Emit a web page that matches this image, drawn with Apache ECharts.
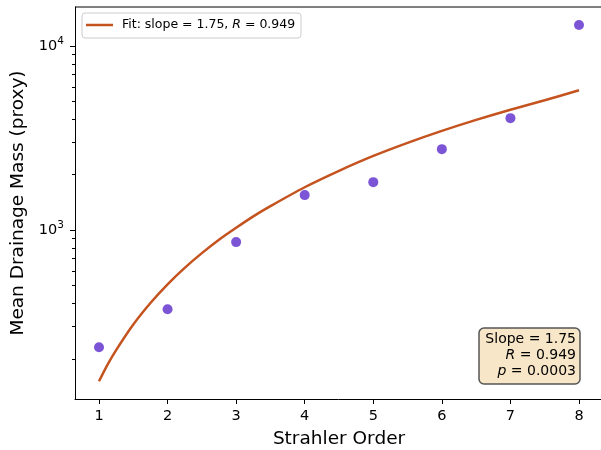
<!DOCTYPE html>
<html>
<head>
<meta charset="utf-8">
<script src="https://cdn.jsdelivr.net/npm/echarts@6/dist/echarts.min.js"></script>
<style>
  html, body { margin: 0; padding: 0; background: #fff; }
  #chart { width: 601px; height: 450px; }
</style>
</head>
<body>
<div id="chart"></div>
<script>
// Strahler order and mean drainage mass
const orders = [1, 2, 3, 4, 5, 6, 7, 8];
const meanMass = [231, 372, 861, 1550, 1823, 2755, 4060, 13000];

// fitted power-law curve, sampled along x (denser where it bends most)
const fitX = [1, 1.125, 1.25, 1.5, 1.75, 2, 2.25, 2.5, 2.75, 3, 3.25, 3.5, 4, 4.5, 5, 5.5, 6, 6.5, 7, 7.5, 8];
const fitY = [151, 186, 223, 307, 402, 508, 624, 750, 887, 1030, 1188, 1350, 1710, 2100, 2530, 2980, 3460, 3970, 4510, 5080, 5750];

const majorTicks = [1000, 10000];
const minorTicks = [200, 300, 400, 500, 600, 700, 800, 900, 2000, 3000, 4000, 5000, 6000, 7000, 8000, 9000];

const FONT = "DejaVu Sans";
const lineColor = "#c4531f";
const dotColor = "#7b55d6";

const chart = echarts.init(document.getElementById("chart"));

const yBase = {
  type: "log",
  logBase: 10,
  min: 121,
  max: 16300,
  position: "left",
  splitLine: { show: false },
};

const italic = {
  n: { fontFamily: FONT, fontSize: 14, fill: "#000" },
  i: { fontFamily: FONT, fontSize: 14, fontStyle: "italic", fill: "#000" },
};

const option = {
  animation: false,
  grid: { left: 75, top: 7, right: -2, bottom: 51, outerBoundsMode: "none" },
  xAxis: {
    type: "value",
    min: 0.65,
    max: 8.35,
    name: "Strahler Order",
    nameLocation: "middle",
    nameGap: 31,
    nameTextStyle: { fontFamily: FONT, fontSize: 18.5, color: "#000" },
    axisLine: { onZero: false, lineStyle: { color: "#000", width: 1 } },
    axisTick: { customValues: orders, length: 5, lineStyle: { color: "#000" } },
    axisLabel: { customValues: orders, fontFamily: FONT, fontSize: 14.5, color: "#000", margin: 10 },
    splitLine: { show: false },
  },
  yAxis: [
    Object.assign({}, yBase, {
      name: "Mean Drainage Mass (proxy)",
      nameLocation: "middle",
      nameGap: 45,
      nameTextStyle: { fontFamily: FONT, fontSize: 18.5, color: "#000" },
      axisLine: { show: true, lineStyle: { color: "#000", width: 1 } },
      axisTick: { customValues: majorTicks, length: 5, lineStyle: { color: "#000" } },
      axisLabel: {
        customValues: majorTicks,
        margin: 11,
        formatter: (v) => "{b|10}{s|" + Math.round(Math.log10(v)) + "}",
        rich: {
          b: { fontFamily: FONT, fontSize: 14.5, color: "#000" },
          s: { fontFamily: FONT, fontSize: 10.5, color: "#000", padding: [0, 0, 9, 0] },
        },
      },
    }),
    Object.assign({}, yBase, {
      axisLine: { show: false },
      axisTick: { customValues: minorTicks, length: 3, lineStyle: { color: "#000" } },
      axisLabel: { show: false },
    }),
  ],
  series: [
    {
      name: "Fit",
      type: "line",
      data: fitX.map((x, i) => [x, fitY[i]]),
      smooth: 0.3,
      showSymbol: false,
      lineStyle: { color: lineColor, width: 2.5 },
      z: 2,
    },
    {
      name: "Data",
      type: "scatter",
      data: orders.map((x, i) => [x, meanMass[i]]),
      symbolSize: 10,
      itemStyle: { color: dotColor, opacity: 1 },
      z: 3,
    },
  ],
  graphic: [
    // top spine
    { type: "line", shape: { x1: 75, y1: 7, x2: 601, y2: 7 }, style: { stroke: "#000", lineWidth: 1 }, z: 10 },
    // legend box
    {
      type: "rect",
      shape: { x: 82, y: 13, width: 219, height: 25, r: 3 },
      style: { fill: "rgba(255,255,255,0.85)", stroke: "#ccc", lineWidth: 1 },
      z: 10,
    },
    { type: "line", shape: { x1: 86, y1: 25, x2: 113, y2: 25 }, style: { stroke: lineColor, lineWidth: 2.5 }, z: 11 },
    {
      type: "text",
      x: 122,
      y: 25,
      style: {
        text: "{n|Fit: slope = 1.75, }{i|R}{n| = 0.949}",
        verticalAlign: "middle",
        rich: {
          n: { fontFamily: FONT, fontSize: 12.5, fill: "#000" },
          i: { fontFamily: FONT, fontSize: 12.5, fontStyle: "italic", fill: "#000" },
        },
      },
      z: 11,
    },
    // stats box
    {
      type: "rect",
      shape: { x: 479, y: 328, width: 101, height: 56, r: 5 },
      style: { fill: "#f7e6c7", stroke: "#555", lineWidth: 1.5 },
      z: 10,
    },
    {
      type: "text", x: 576, y: 339,
      style: { text: "Slope = 1.75", align: "right", verticalAlign: "middle", fontFamily: FONT, fontSize: 14, fill: "#000" },
      z: 11,
    },
    {
      type: "text", x: 576, y: 355,
      style: { text: "{i|R}{n| = 0.949}", align: "right", verticalAlign: "middle", rich: italic },
      z: 11,
    },
    {
      type: "text", x: 576, y: 371,
      style: { text: "{i|p}{n| = 0.0003}", align: "right", verticalAlign: "middle", rich: italic },
      z: 11,
    },
  ],
};

chart.setOption(option);
</script>
</body>
</html>
